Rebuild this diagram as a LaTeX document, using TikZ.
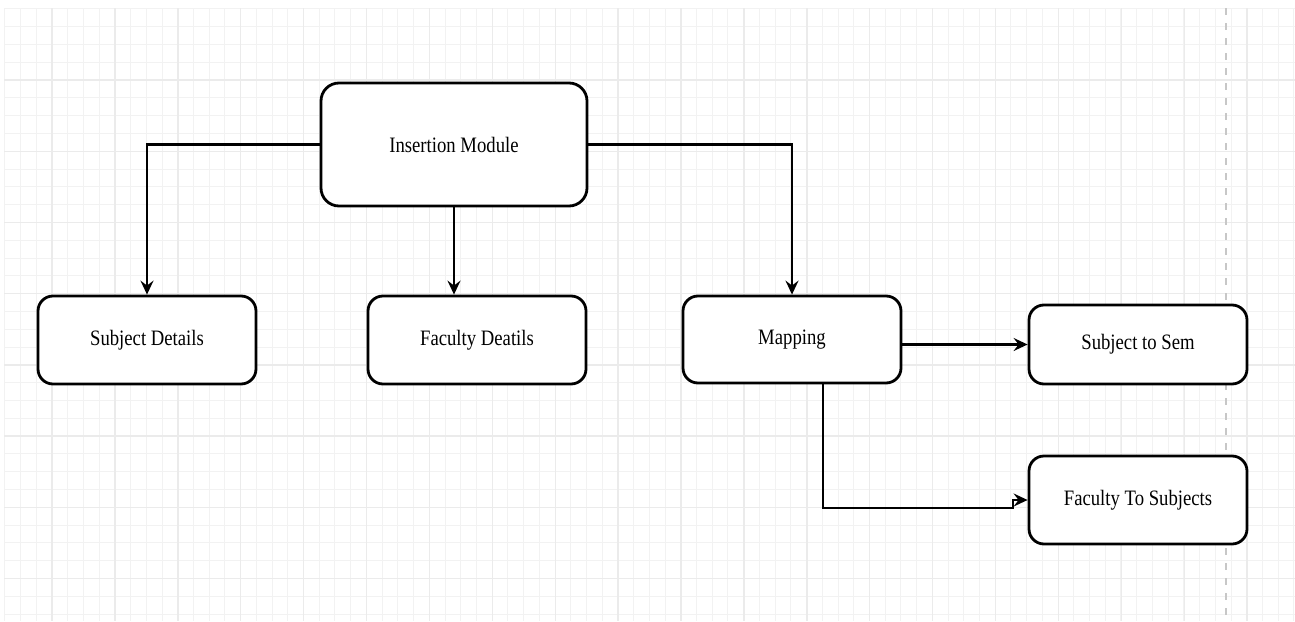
\documentclass[tikz,border=0pt]{standalone}
\usepackage{fontspec}
\newfontfamily\lblfont[FakeStretch=0.85]{Liberation Serif}
\usetikzlibrary{arrows.meta}
\begin{document}
\begin{tikzpicture}[x=1pt,y=-1pt,
  box/.style={draw=black, line width=2.8pt, rounded corners=15pt, fill=white, inner sep=0pt, minimum width=218pt, minimum height=88pt, font=\lblfont\fontsize{22}{26}\selectfont},
  conn/.style={line width=2.2pt, -{Stealth[length=14pt,width=13pt,inset=5pt]}},
  minorgrid/.style={line width=1pt, color=black!5},
  majorgrid/.style={line width=1.4pt, color=black!8}]
\useasboundingbox (0,0) rectangle (1295,621);
\fill[white] (0,0) rectangle (1295,621);
% grid
\foreach \i in {0,...,82} \draw[minorgrid] ({4.84+15.72*\i},8) -- ({4.84+15.72*\i},621);
\foreach \j in {0,...,34} \draw[minorgrid] (4,{8.8+17.8*\j}) -- (1295,{8.8+17.8*\j});
\foreach \i in {0,...,20} \draw[majorgrid] ({52+62.9*\i},8) -- ({52+62.9*\i},621);
\foreach \j in {0,...,7} \draw[majorgrid] (4,{80+71.2*\j}) -- (1295,{80+71.2*\j});
\draw[line width=2pt, color=black!22, dash pattern=on 7pt off 8pt] (1225.7,8) -- (1225.7,621);
% nodes
\node[box, minimum width=266pt, minimum height=123pt, rounded corners=18pt] (ins) at (454,144.5) {Insertion Module};
\node[box] (sd) at (147,340) {Subject Details};
\node[box] (fd) at (477,340) {Faculty Deatils};
\node[box, minimum height=87pt] (map) at (792,339.5) {Mapping};
\node[box, minimum height=79pt] (s2s) at (1138,344.5) {Subject to Sem};
\node[box] (f2s) at (1138,500) {Faculty To Subjects};
% connectors
\coordinate (j1) at (1013,508);
\coordinate (j2) at (1013,500);
\draw[conn] (ins.west) -| (sd.north);
\draw[conn] (ins.south) -- (ins.south |- fd.north);
\draw[conn] (ins.east) -| (map.north);
\draw[conn] (map.east |- s2s) -- (s2s.west);
\draw[conn] ([xshift=31pt]map.south) |- (j1) -- (j2) -- (f2s.west);
\end{tikzpicture}
\end{document}
